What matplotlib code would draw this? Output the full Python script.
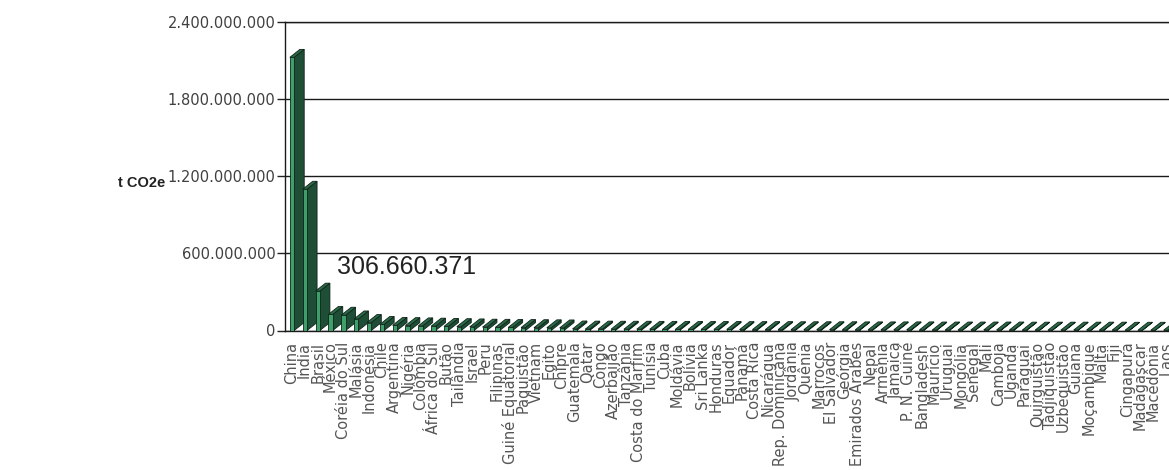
import matplotlib.pyplot as plt
import numpy as np

# Emissions per country (t CO2e), drawn as a 3D-looking column chart

countries = ['China', 'Índia', 'Brasil', 'México', 'Coréia do Sul', 'Malásia',
             'Indonésia', 'Chile', 'Argentina', 'Nigéria', 'Colômbia',
             'África do Sul', 'Butão', 'Tailândia', 'Israel', 'Peru',
             'Filipinas', 'Guiné Equatorial', 'Paquistão', 'Vietnam', 'Egito',
             'Chipre', 'Guatemala', 'Qatar', 'Congo', 'Azerbaijão', 'Tanzânia',
             'Costa do Marfim', 'Tunísia', 'Cuba', 'Moldávia', 'Bolívia',
             'Sri Lanka', 'Honduras', 'Equador', 'Panamá', 'Costa Rica',
             'Nicarágua', 'Rep. Dominicana', 'Jordânia', 'Quênia', 'Marrocos',
             'El Salvador', 'Geórgia', 'Emirados Árabes', 'Nepal', 'Armênia',
             'Jamaica', 'P. N. Guiné', 'Bangladesh', 'Maurício', 'Uruguai',
             'Mongólia', 'Senegal', 'Mali', 'Camboja', 'Uganda', 'Paraguai',
             'Quirguistão', 'Tadjiquistão', 'Uzbequistão', 'Guiana',
             'Moçambique', 'Malta', 'Fiji', 'Cingapura', 'Madagascar',
             'Macedônia', 'Laos']

# millions of t CO2e (Brasil is labelled)
emissions_mt = [2127, 1100, 306.660371, 125, 119, 90, 62, 47,
                40, 38, 36, 34, 32, 30, 28, 26, 25, 24, 23, 22, 21, 20,
                12, 11, 11, 10, 10, 10, 9, 9, 9, 8, 8, 8, 8, 7, 7, 7, 7, 6,
                6, 6, 6, 6, 5, 5, 5, 5, 5, 5, 4, 4, 4, 4, 4, 4, 4, 3, 3, 3,
                3, 3, 3, 3, 3, 2, 2, 2, 2]

highlight = 'Brasil'
y_ticks = [0, 600e6, 1200e6, 1800e6, 2400e6]

values = np.array(emissions_mt) * 1e6

front_color = '#3f9f6b'
side_color = '#1e4f36'
top_color = '#2b6a47'
edge_color = '#0f2419'

bar_w = 0.34
depth_x = 0.78
depth_y = 62e6

fig = plt.figure(figsize=(11.69, 4.70), dpi=100)
ax = fig.add_axes([285 / 1169, 1 - 330.5 / 470, 1 - 285 / 1169, 308.2 / 470])

x = np.arange(len(countries))
for i in x:
    v = values[i]
    x0 = i - bar_w / 2
    x1 = i + bar_w / 2
    z = 3 + i * 0.01  # bars further right sit in front
    ax.fill([x1, x1 + depth_x, x1 + depth_x, x1], [0, depth_y, v + depth_y, v],
            color=side_color, ec=edge_color, lw=0.6, zorder=z)
    ax.fill([x0, x0 + depth_x, x1 + depth_x, x1], [v, v + depth_y, v + depth_y, v],
            color=top_color, ec=edge_color, lw=0.6, zorder=z)
    ax.bar(i, v, width=bar_w, color=front_color, edgecolor=edge_color,
           lw=0.6, zorder=z)

# Label for the highlighted bar
hi = countries.index(highlight)
ax.annotate(f'{values[hi]:,.0f}'.replace(',', '.'), xy=(hi, values[hi]),
            xytext=(14, 12), textcoords='offset points', ha='left',
            va='baseline', fontsize=18, family='Liberation Sans',
            color='#222222', zorder=10)

ax.set_xlim(-0.545, 68.25)
ax.set_ylim(0, 2400e6)
ax.set_yticks(y_ticks)
ax.set_yticklabels([f'{t:,.0f}'.replace(',', '.') for t in y_ticks])
ax.set_xticks(x)
ax.set_xticklabels(countries, rotation=90)

ax.tick_params(axis='y', length=5.8, width=1, pad=1, labelsize=10.5,
               labelcolor='#404040', color='#222222')
ax.tick_params(axis='x', length=0, pad=8, labelsize=10.5, labelcolor='#555555')

ax.yaxis.grid(True, color='#1a1a1a', lw=1.0)
ax.set_axisbelow(True)
for side in ['right']:
    ax.spines[side].set_visible(False)
for side in ['left', 'bottom', 'top']:
    ax.spines[side].set_color('#1a1a1a')
    ax.spines[side].set_linewidth(1.0)

fig.text(118 / 1169, 1 - 183 / 470, 't CO2e', ha='left', va='center',
         fontsize=10.5, fontweight='bold', family='Liberation Sans',
         color='#222222')

fig.savefig('out.png', dpi=100)
print('Saving out.png')
